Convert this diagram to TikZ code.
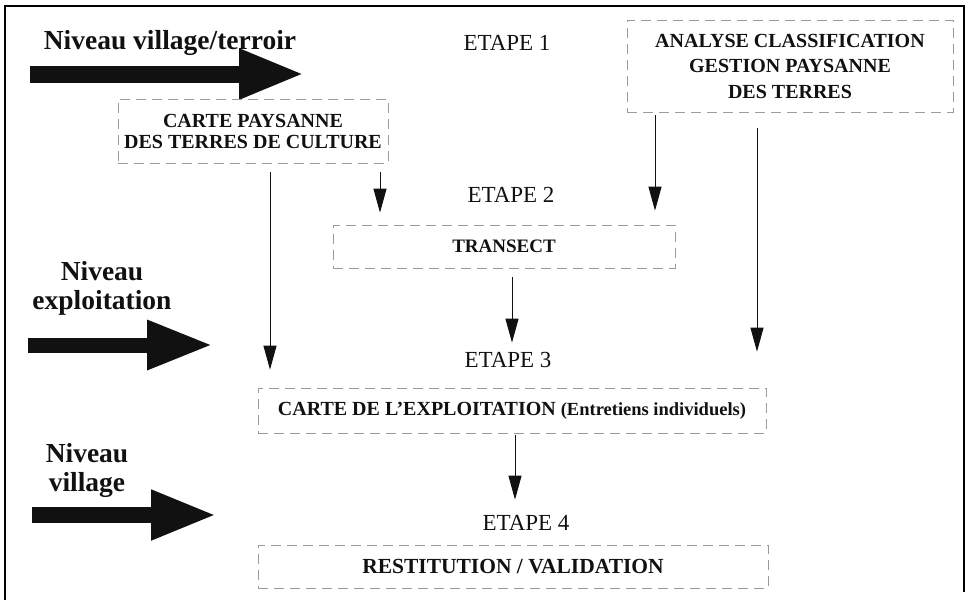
\documentclass[tikz,border=0pt]{standalone}
\usepackage{fontspec}
\setmainfont{Liberation Serif}
\usetikzlibrary{arrows.meta, positioning}
\definecolor{stageInk}{HTML}{111111}
\definecolor{stageEdge}{HTML}{9a9a9a}

\begin{document}
\begin{tikzpicture}[x=1pt, y=-1pt, text=stageInk,
        level/.style={font=\bfseries\fontsize{27.5}{29}\selectfont, align=center, inner sep=0pt},
        etape/.style={font=\fontsize{23}{25}\selectfont, inner sep=0pt},
        card/.style={draw=stageEdge, line width=0.7pt, dash pattern=on 10pt off 6pt, align=center, inner sep=0pt},
        bigarrow/.style={line width=17pt, draw=stageInk, -{Triangle[length=66pt, width=46pt]}},
        link/.style={line width=1pt, draw=stageInk, -{Triangle[length=24pt, width=13pt]}}]
        \useasboundingbox (0,0) rectangle (967,600);
        \draw[line width=1.6pt] (5,600) -- (5,6) -- (964,6) -- (964,592);
        % niveaux et grosses fleches
        \node[level] (nivT) at (170,43) {Niveau village/terroir};
        \node[level] (nivE) at (102,288) {Niveau\\exploitation};
        \node[level] (nivV) at (87,470) {Niveau\\village};
        \coordinate (arrT0) at (30,74);   \coordinate (arrT1) at (305,74);
        \coordinate (arrE0) at (28,345);  \coordinate (arrE1) at (213,345);
        \coordinate (arrV0) at (32,515);  \coordinate (arrV1) at (217,515);
        \draw[bigarrow] (arrT0) -- (arrT1);
        \draw[bigarrow, line width=15pt] (arrE0) -- (arrE1);
        \draw[bigarrow, line width=16pt] (arrV0) -- (arrV1);
        % etapes
        \node[card, minimum width=326pt, minimum height=92pt, font=\bfseries\fontsize{20}{25.5}\selectfont] (analyse) at (790,66)
          {ANALYSE CLASSIFICATION\\GESTION PAYSANNE\\DES TERRES};
        \node[card, minimum width=270pt, minimum height=64pt, font=\bfseries\fontsize{20}{21}\selectfont] (paysanne) at (253,131)
          {CARTE PAYSANNE\\DES TERRES DE CULTURE};
        \node[card, minimum width=342pt, minimum height=43pt, font=\bfseries\fontsize{19}{21}\selectfont] (transect) at (504,246.5) {TRANSECT};
        \node[card, minimum width=508pt, minimum height=45pt, font=\bfseries\fontsize{20}{22}\selectfont] (exploit) at (512,410.5)
          {CARTE DE L'EXPLOITATION {\fontsize{18.5}{20}\selectfont(Entretiens individuels)}};
        \node[card, minimum width=510pt, minimum height=43pt, font=\bfseries\fontsize{21.5}{23}\selectfont] (restit) at (513,566.5)
          {RESTITUTION / VALIDATION};
        \node[etape] (et1) at (507,43) {ETAPE 1};
        \node[etape, above=22pt of transect, xshift=7pt] (et2) {ETAPE 2};
        \node[etape, above=20pt of exploit, xshift=-4pt] (et3) {ETAPE 3};
        \node[etape, above=14pt of restit, xshift=13pt] (et4) {ETAPE 4};
        % liaisons
        \draw[link, shorten <=9pt, shorten >=18pt] ([xshift=17pt]paysanne.south) -- ([xshift=17pt]paysanne.south |- exploit.north);
        \draw[link, shorten <=9pt, shorten >=12pt] ([xshift=127pt]paysanne.south) -- ([xshift=127pt]paysanne.south |- transect.north);
        \draw[link, shorten <=3pt, shorten >=14pt] ([xshift=-135pt]analyse.south) -- ([xshift=-135pt]analyse.south |- transect.north);
        \draw[link, shorten <=16pt, shorten >=36pt] ([xshift=-33pt]analyse.south) -- ([xshift=-33pt]analyse.south |- exploit.north);
        \draw[link, shorten <=9pt, shorten >=45pt] ([xshift=8pt]transect.south) -- ([xshift=8pt]transect.south |- exploit.north);
        \draw[link, shorten <=2pt, shorten >=45pt] ([xshift=3pt]exploit.south) -- ([xshift=3pt]exploit.south |- restit.north);
\end{tikzpicture}
\end{document}
